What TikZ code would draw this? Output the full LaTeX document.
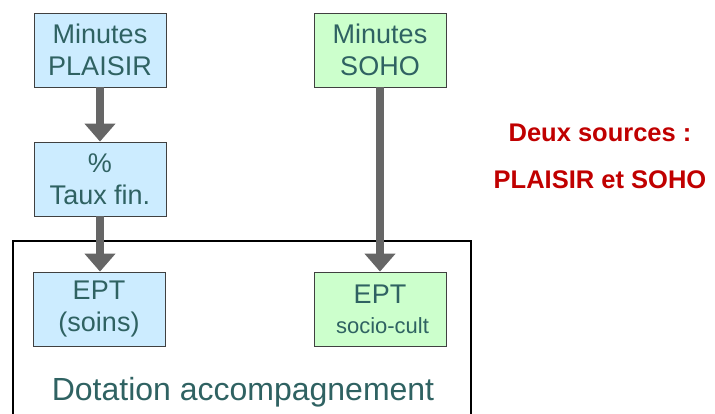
\documentclass[tikz,border=0pt]{standalone}
\usepackage{fontspec}
\setmainfont{Liberation Sans}
\usetikzlibrary{arrows.meta}
\definecolor{txt}{HTML}{2F6262}
\definecolor{bluefill}{HTML}{CCECFF}
\definecolor{greenfill}{HTML}{CCFFCC}
\definecolor{arrgray}{HTML}{666666}
\definecolor{deepred}{HTML}{C00000}
\begin{document}
\begin{tikzpicture}[x=1pt,y=-1pt,
  box/.style={draw=black!75, line width=0.8pt, minimum width=132pt, minimum height=74pt,
    inner sep=0pt, text=txt, align=center, font=\fontsize{27}{32}\selectfont},
  arr/.style={draw=arrgray, line width=8pt, -{Triangle[width=30pt,length=18pt]}},
  redlbl/.style={text=deepred, font=\bfseries\fontsize{25.5}{30}\selectfont, anchor=base}]
\useasboundingbox (0,0) rectangle (715,413);
\draw[line width=1.2pt] (13,416) -- (13,241) -- (471,241) -- (471,416);
\node[box, fill=bluefill] (p) at (100,50) {Minutes\\PLAISIR};
\node[box, fill=greenfill] (s) at (380,50) {Minutes\\SOHO};
\node[box, fill=bluefill] (t) at (100,179) {\%\\Taux fin.};
\node[box, fill=bluefill] (e1) at (99,309) {EPT\\(soins)};
\node[box, fill=greenfill] (e2) at (380,309) {EPT\\[-2pt]{\fontsize{22}{26}\selectfont\hspace*{5pt}socio-cult}};
\draw[arr] (p.south) -- (t.north);
\draw[arr] (t.south) -- (e1.north -| t.south);
\draw[arr] (s.south) -- (e2.north);
\node[text=txt, font=\fontsize{32}{32}\selectfont, anchor=base] (d) at (243,400) {Dotation accompagnement};
\node[redlbl] (r1) at (600,141) {Deux sources :};
\node[redlbl] (r2) at (600,188) {PLAISIR et SOHO};
\end{tikzpicture}
\end{document}
